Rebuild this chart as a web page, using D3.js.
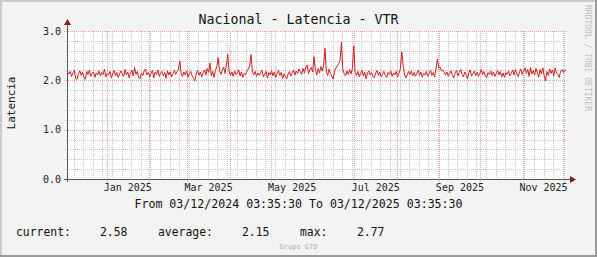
<!DOCTYPE html>
<html>
<head>
<meta charset="utf-8">
<script src="https://d3js.org/d3.v7.min.js" type="text/javascript"></script>
<style>
  body { margin: 0; background: #f3f3f3; }
  text { font-family: "DejaVu Sans Mono", monospace; }
</style>
</head>
<body>
<div id="chart"></div>
<script>

// daily latency values, first value is 03/12/2024
const latency = [
  2.17,2.13,2.18,2.08,2.15,2.20,2.04,2.02,2.14,2.19,
  2.10,2.16,2.07,2.02,2.18,2.12,2.21,2.08,2.14,2.17,
  2.06,2.15,2.11,2.19,2.09,2.16,2.12,2.22,2.07,2.14,
  2.11,2.18,2.05,2.13,2.20,2.09,2.16,2.06,2.13,2.19,
  2.14,2.08,2.22,2.11,2.17,2.05,2.15,2.21,2.09,2.26,
  2.12,2.18,2.06,2.03,2.15,2.10,2.19,2.23,2.11,2.16,
  2.07,2.14,2.20,2.05,2.17,2.12,2.21,2.08,2.15,2.18,
  2.09,2.16,2.04,2.19,2.11,2.17,2.07,2.14,2.20,2.12,
  2.18,2.22,2.39,2.13,2.08,2.17,2.11,2.19,2.06,2.14,
  2.18,2.09,2.05,1.99,2.15,2.20,2.10,2.17,2.07,2.15,
  2.21,2.11,2.24,2.16,2.35,2.09,2.18,2.06,2.20,2.28,
  2.46,2.19,2.12,2.21,2.27,2.14,2.31,2.53,2.18,2.10,
  2.17,2.08,2.19,2.12,2.15,2.21,2.09,2.17,2.06,2.14,
  2.12,2.19,2.23,2.29,2.52,2.17,2.11,2.18,2.08,2.15,
  2.10,2.16,2.20,2.07,2.13,2.18,2.05,2.16,2.11,2.19,
  2.09,2.17,2.06,2.14,2.20,2.10,2.16,2.04,2.13,2.08,
  2.03,2.12,2.18,2.09,2.15,2.21,2.11,2.19,2.14,2.23,
  2.17,2.12,2.24,2.15,2.27,2.31,2.14,2.22,2.26,2.17,
  2.48,2.20,2.11,2.24,2.15,2.28,2.19,2.30,2.65,2.17,
  2.10,2.23,2.14,2.08,2.03,2.20,2.25,2.29,2.34,2.41,
  2.77,2.21,2.14,2.09,2.19,2.12,2.22,2.13,2.24,2.70,
  2.16,2.10,2.18,2.07,2.14,2.20,2.09,2.17,2.03,2.15,
  2.19,2.11,2.16,2.08,2.05,2.15,2.20,2.10,2.17,2.07,
  2.13,2.18,2.10,2.06,2.16,2.12,2.19,2.08,2.15,2.11,
  2.18,2.07,2.14,2.23,2.58,2.31,2.13,2.05,2.11,2.18,
  2.12,2.19,2.09,2.16,2.08,2.14,2.20,2.10,2.17,2.06,
  2.14,2.11,2.18,2.08,2.13,2.20,2.10,2.16,2.07,2.23,
  2.43,2.25,2.27,2.19,2.21,2.16,2.11,2.17,2.08,2.14,
  2.19,2.10,2.05,2.15,2.20,2.09,2.16,2.22,2.12,2.07,
  2.17,2.11,2.03,2.15,2.21,2.09,2.14,2.19,2.10,2.16,
  2.08,2.14,2.22,2.12,2.18,2.09,2.06,2.16,2.12,2.19,
  2.10,2.17,2.08,2.14,2.20,2.11,2.18,2.07,2.15,2.06,
  2.16,2.12,2.19,2.09,2.14,2.21,2.11,2.22,2.13,2.08,
  2.17,2.23,2.12,2.19,2.25,2.14,2.22,2.08,2.26,2.13,
  2.20,2.11,2.24,2.15,2.06,2.22,2.13,2.25,2.09,1.99,
  2.18,2.10,2.23,2.14,2.21,2.09,2.25,2.15,2.12,2.06,
  2.19,2.22,2.16,2.20,2.21
];

const yTicks = [0, 1, 2, 3];
const monthLabels = ["Jan 2025", "Mar 2025", "May 2025", "Jul 2025", "Sep 2025", "Nov 2025"];
const legendItems = [
  { label: "current:", value: "2.58" },
  { label: "average:", value: "2.15" },
  { label: "max:", value: "2.77" }
];
const titleText = "Nacional - Latencia - VTR";
const yAxisLabel = "Latencia";
const periodText = "From 03/12/2024 03:35:30 To 03/12/2025 03:35:30";
const footerText = "Grupo GTD";
const watermarkText = "RRDTOOL / TOBI OETIKER";

const startTime = new Date(2024, 11, 3, 3, 35, 30),
      endTime = new Date(2025, 11, 3, 3, 35, 30);

const dims = { w: 597, h: 257, l: 67, r: 567, t: 31, b: 179 };

const svg = d3.select("#chart").append("svg")
    .attr("width", dims.w)
    .attr("height", dims.h);

// background and shaded frame
svg.append("rect").attr("width", dims.w).attr("height", dims.h).attr("fill", "#f3f3f3");
svg.append("path").attr("d", `M1,${dims.h} V1 H${dims.w}`).attr("fill", "none")
    .attr("stroke", "#cbcbcb").attr("stroke-width", 2);
svg.append("path").attr("d", `M${dims.w - 1},0 V${dims.h - 1} H0`).attr("fill", "none")
    .attr("stroke", "#9b9b9b").attr("stroke-width", 2);

const x = d3.scaleTime().domain([startTime, endTime]).range([dims.l, dims.r]);
const y = d3.scaleLinear().domain([0, 3]).range([dims.b, dims.t]);

// plot area
svg.append("rect")
    .attr("x", dims.l).attr("y", dims.t)
    .attr("width", dims.r - dims.l).attr("height", dims.b - dims.t)
    .attr("fill", "#ffffff");

const grid = svg.append("g").attr("shape-rendering", "crispEdges");

// minor grid: weeks and 0.2 steps
const weeks = d3.timeSunday.range(startTime, endTime);
grid.selectAll(".vminor").data(weeks).enter().append("line")
    .attr("x1", d => Math.round(x(d)) + 0.5).attr("x2", d => Math.round(x(d)) + 0.5)
    .attr("y1", dims.t).attr("y2", dims.b + 2)
    .attr("stroke", "#c8c8c8").attr("stroke-dasharray", "1,1");

const minorY = d3.range(0, 3.01, 0.2).filter(v => Math.abs(v - Math.round(v)) > 0.01);
grid.selectAll(".hminor").data(minorY).enter().append("line")
    .attr("x1", dims.l - 2).attr("x2", dims.r)
    .attr("y1", d => Math.round(y(d)) + 0.5).attr("y2", d => Math.round(y(d)) + 0.5)
    .attr("stroke", "#c8c8c8").attr("stroke-dasharray", "1,1");

// major grid: months and whole units
const months = d3.timeMonth.range(startTime, endTime);
grid.selectAll(".vmajor").data(months).enter().append("line")
    .attr("x1", d => Math.round(x(d)) + 0.5).attr("x2", d => Math.round(x(d)) + 0.5)
    .attr("y1", dims.t).attr("y2", dims.b + 3)
    .attr("stroke", "#f2a0a0").attr("stroke-dasharray", "1,1");

grid.selectAll(".hmajor").data(yTicks).enter().append("line")
    .attr("x1", dims.l - 3).attr("x2", dims.r)
    .attr("y1", d => Math.round(y(d)) + 0.5).attr("y2", d => Math.round(y(d)) + 0.5)
    .attr("stroke", "#f2a0a0").attr("stroke-dasharray", "1,1");

// y tick labels
svg.selectAll(".ylab").data(yTicks).enter().append("text")
    .attr("x", dims.l - 6)
    .attr("y", d => y(d) + 3.5)
    .attr("text-anchor", "end")
    .attr("font-size", 10)
    .attr("fill", "#222")
    .text(d => d3.format(".1f")(d));

// x labels centred on the month
const labelMonths = months.filter(m => monthLabels.includes(d3.timeFormat("%b %Y")(m)));
svg.selectAll(".xlab").data(labelMonths).enter().append("text")
    .attr("x", d => (x(d) + x(d3.timeMonth.offset(d, 1))) / 2)
    .attr("y", 191)
    .attr("text-anchor", "middle")
    .attr("font-size", 10)
    .attr("fill", "#222")
    .text(d => d3.timeFormat("%b %Y")(d));

// the latency line
const points = latency.map((v, i) => ({ t: d3.timeHour.offset(d3.timeDay.offset(new Date(2024, 11, 3), i), 12), v }));
const line = d3.line()
    .x(d => x(d.t))
    .y(d => y(d.v));

svg.append("path")
    .datum(points)
    .attr("d", line)
    .attr("fill", "none")
    .attr("stroke", "#cc1f1f")
    .attr("stroke-width", 1)
    .attr("stroke-linejoin", "round");

// axes with arrows
const axisCol = "#555555", arrowCol = "#8b1a1a";
svg.append("line")
    .attr("x1", dims.l - 3).attr("x2", dims.r + 4)
    .attr("y1", dims.b + 0.5).attr("y2", dims.b + 0.5)
    .attr("stroke", axisCol);
svg.append("line")
    .attr("x1", dims.l + 0.5).attr("x2", dims.l + 0.5)
    .attr("y1", dims.b + 3).attr("y2", dims.t - 7)
    .attr("stroke", axisCol);
svg.append("path")
    .attr("d", `M${dims.r + 3},${dims.b - 3} L${dims.r + 9},${dims.b + 0.5} L${dims.r + 3},${dims.b + 4} Z`)
    .attr("fill", arrowCol);
svg.append("path")
    .attr("d", `M${dims.l - 3},${dims.t - 6} L${dims.l + 0.5},${dims.t - 12} L${dims.l + 4},${dims.t - 6} Z`)
    .attr("fill", arrowCol);

// title and axis label
svg.append("text")
    .attr("x", dims.w / 2).attr("y", 24)
    .attr("text-anchor", "middle")
    .attr("font-size", 13.3)
    .attr("fill", "#111")
    .text(titleText);

svg.append("text")
    .attr("transform", "translate(15,103) rotate(-90)")
    .attr("text-anchor", "middle")
    .attr("font-size", 11)
    .attr("fill", "#111")
    .text(yAxisLabel);

svg.append("text")
    .attr("transform", "translate(585,5) rotate(90)")
    .attr("text-anchor", "start")
    .attr("font-size", 8)
    .attr("fill", "#bdbdbd")
    .text(watermarkText);

svg.append("text")
    .attr("x", dims.w / 2).attr("y", 208)
    .attr("text-anchor", "middle")
    .attr("font-size", 11.6)
    .attr("fill", "#111")
    .text(periodText);

// legend row
const legendX = [16, 158, 300],
      valueX = [100, 242, 357];
const legend = svg.selectAll(".leg").data(legendItems).enter().append("g");
legend.append("text")
    .attr("x", (d, i) => legendX[i]).attr("y", 236)
    .attr("font-size", 11.4).attr("fill", "#111")
    .text(d => d.label);
legend.append("text")
    .attr("x", (d, i) => valueX[i]).attr("y", 236)
    .attr("font-size", 11.4).attr("fill", "#111")
    .text(d => d.value);

svg.append("text")
    .attr("x", dims.w / 2).attr("y", 249)
    .attr("text-anchor", "middle")
    .attr("font-size", 7)
    .attr("fill", "#aaaaaa")
    .text(footerText);

</script>
</body>
</html>
